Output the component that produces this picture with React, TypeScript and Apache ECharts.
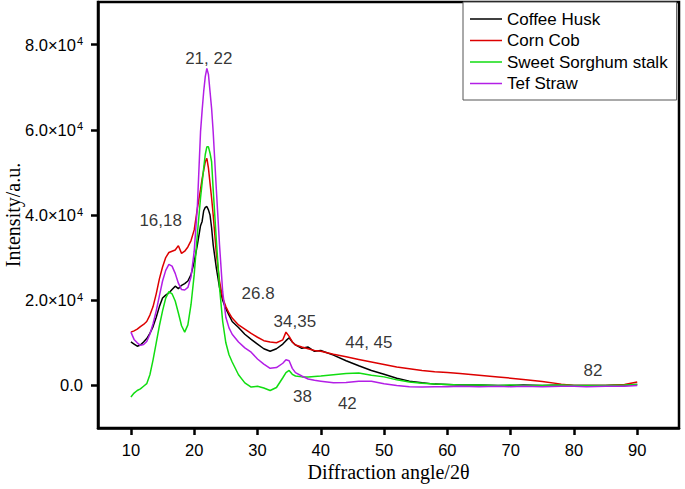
import React, { useEffect, useRef } from "react";
import * as echarts from "echarts";

const xAngles = [
  10, 10.5, 11, 11.5, 12, 12.5, 13, 13.5, 14, 14.5,
  15, 15.5, 16, 16.5, 17, 17.5, 18, 18.5, 19, 19.5,
  20, 20.5, 21, 21.25, 21.5, 21.75, 22, 22.25, 22.5, 22.75,
  23, 23.5, 24, 24.5, 25, 25.5, 26, 27, 28, 29,
  30, 31, 32, 33, 34, 34.5, 35, 35.5, 36, 37,
  38, 39, 40, 42, 44, 46, 48, 50, 52, 54,
  56, 58, 60, 62, 65, 68, 70, 72, 75, 78,
  80, 82, 85, 88, 90,
];

const coffeeHusk = [
  10200, 9700, 9200, 9500, 10200, 11000, 12200, 13800, 16000, 18500,
  20500, 21200, 21700, 22500, 23300, 22700, 23500, 23900, 24500, 26000,
  29000, 33000, 37500, 38500, 41000, 41800, 42000, 41200, 40000, 37000,
  33000, 27500, 23000, 20000, 18000, 16500, 15000, 13600, 12000, 10800,
  9700, 8600, 8000, 8600, 9700, 10500, 11200, 10200, 9500, 8700,
  9000, 8000, 8200, 7100, 5800, 4600, 3500, 2600, 1700, 1000,
  600, 300, 200, 100, 100, 0, 0, 100, 0, 100,
  0, 0, 0, 100, 200,
];

const cornCob = [
  12500, 12800, 13200, 13800, 14300, 15000, 16500, 18500, 21500, 25000,
  27800, 30000, 31200, 31500, 31800, 32800, 31000, 31500, 32500, 34000,
  36500, 41500, 46000, 48500, 50500, 52500, 53300, 51000, 47500, 44000,
  40000, 31000, 24500, 20500, 18500, 17000, 15800, 14200, 13200, 12200,
  11300, 10500, 10200, 10000, 10700, 12500, 11500, 10200, 9500, 9000,
  8600, 8200, 8000, 7300, 6700, 6100, 5500, 4900, 4300, 3900,
  3500, 3200, 3000, 2800, 2400, 2000, 1700, 1400, 900, 300,
  0, 0, 0, 200, 800,
];

const sweetSorghumStalk = [
  -2700, -1800, -1200, -800, -200, 400, 2500, 6000, 10000, 14000,
  17500, 20500, 22000, 21500, 19800, 17000, 14000, 12500, 14200, 19000,
  26000, 35500, 44000, 47500, 51000, 54200, 56000, 56000, 54500, 52500,
  46000, 34000, 23000, 15000, 10000, 7200, 5500, 2500, 600, -400,
  -200, -600, -1200, -500, 1800, 3000, 3500, 2600, 2200, 2000,
  2000, 2100, 2200, 2500, 2800, 2900, 2400, 2000, 1300, 800,
  500, 300, 200, 100, 100, 0, 100, 0, 0, 100,
  0, 0, 0, 100, 200,
];

const tefStraw = [
  12500, 10800, 10000, 9400, 9600, 10300, 12000, 14500, 17500, 21000,
  24500, 27000, 28400, 28000, 26300, 24000, 22500, 22400, 23000, 25500,
  31500, 42000, 59500, 64500, 69000, 72500, 74400, 73000, 69000, 65000,
  59500, 46000, 33000, 22000, 16000, 13500, 12000, 10200, 8800, 7800,
  6200, 5000, 4000, 4200, 5200, 6000, 5800, 4000, 3000, 2200,
  1500, 1200, 1000, 600, 700, 1000, 1000, 400, 0, -300,
  -400, -300, -300, -200, -300, -200, -300, -200, -300, -200,
  -200, -300, -200, -200, 0,
];

const seriesNames = ["Coffee Husk", "Corn Cob", "Sweet Sorghum stalk", "Tef Straw"];
const seriesColors = ["#000000", "#dd0000", "#11dd11", "#b31ee6"];

const xTickValues = [10, 20, 30, 40, 50, 60, 70, 80, 90];
const yTickValues = [0, 20000, 40000, 60000, 80000];

const peakLabels = ["21, 22", "16,18", "26.8", "34,35", "44, 45", "38", "42", "82"];
const peakLabelX = [22.3, 14.7, 30.1, 35.9, 47.6, 37.1, 44.2, 83.0];
const peakLabelY = [76700, 38600, 21600, 14900, 10100, -2700, -4200, 3500];

const SANS = "'Liberation Sans', Arial, Helvetica, sans-serif";
const SERIF = "'Liberation Serif', 'Times New Roman', serif";
const LEGEND_LINE = "path://M0,0H32V1.5H0Z";

export default function App() {
  const ref = useRef<HTMLDivElement>(null);

  useEffect(() => {
    if (!ref.current) return;
    const chart = echarts.init(ref.current, null, { renderer: "svg" });
    const allValues = [coffeeHusk, cornCob, sweetSorghumStalk, tefStraw];

    const lineSeries = allValues.map((vals, si) => ({
      type: "line",
      name: seriesNames[si],
      data: xAngles.map((x, i) => [x, vals[i]]),
      symbol: "none",
      smooth: false,
      lineStyle: { color: seriesColors[si], width: 1.5 },
      itemStyle: { color: seriesColors[si] },
      z: 2 + si,
    }));

    const labelSeries = {
      type: "scatter",
      name: "peaks",
      silent: true,
      symbolSize: 1,
      itemStyle: { color: "rgba(0,0,0,0)" },
      z: 20,
      data: peakLabels.map((t, i) => ({
        value: [peakLabelX[i], peakLabelY[i]],
        label: { formatter: t },
      })),
      label: {
        show: true,
        position: "inside",
        fontSize: 17,
        fontFamily: SANS,
        color: "#000",
      },
    };

    chart.setOption({
      animation: false,
      backgroundColor: "#ffffff",
      grid: {
        left: 98,
        right: 6,
        top: 2,
        bottom: 61,
        containLabel: false,
        outerBoundsMode: "none",
        show: true,
        borderColor: "#000",
        borderWidth: 2.5,
        backgroundColor: "transparent",
      },
      legend: {
        data: seriesNames.map((n) => ({ name: n, icon: LEGEND_LINE })),
        orient: "vertical",
        left: 463,
        top: 2,
        itemWidth: 32,
        itemHeight: 17,
        itemGap: 4.5,
        symbolKeepAspect: true,
        padding: [8.5, 9, 8, 7],
        borderColor: "#555",
        borderWidth: 1,
        backgroundColor: "#fff",
        textStyle: { fontSize: 17, fontFamily: SANS, color: "#000" },
      },
      xAxis: {
        type: "value",
        min: 4.8,
        max: 96.6,
        name: "Diffraction angle/2\u03b8",
        nameLocation: "middle",
        nameGap: 34,
        nameMoveOverlap: false,
        nameTextStyle: { fontFamily: SERIF, fontSize: 20, color: "#000" },
        axisLine: { show: true, onZero: false, lineStyle: { color: "#000", width: 2.5 } },
        axisTick: {
          show: true,
          inside: false,
          length: 7,
          lineStyle: { color: "#000", width: 2.5 },
          customValues: xTickValues,
        },
        axisLabel: {
          fontSize: 16.5,
          fontFamily: SANS,
          color: "#000",
          margin: 13,
          customValues: xTickValues,
        },
        splitLine: { show: false },
      },
      yAxis: {
        type: "value",
        min: -10000,
        max: 90000,
        name: "Intensity/a.u.",
        nameLocation: "middle",
        nameGap: 75,
        nameMoveOverlap: false,
        nameTextStyle: { fontFamily: SERIF, fontSize: 20, color: "#000" },
        axisLine: { show: true, onZero: false, lineStyle: { color: "#000", width: 2.5 } },
        axisTick: {
          show: true,
          inside: false,
          length: 7,
          lineStyle: { color: "#000", width: 2.5 },
          customValues: yTickValues,
        },
        axisLabel: {
          color: "#000",
          margin: 15,
          customValues: yTickValues,
          formatter: (v: number) =>
            v === 0 ? "{m|0.0}" : `{m|${(v / 10000).toFixed(1)}\u00d710}{s|4}`,
          rich: {
            m: { fontSize: 16.5, fontFamily: SANS, color: "#000", lineHeight: 20 },
            s: {
              fontSize: 11,
              fontFamily: SANS,
              color: "#000",
              lineHeight: 20,
              verticalAlign: "top",
              padding: [1, 0, 0, 1],
            },
          },
        },
        splitLine: { show: false },
      },
      series: [...lineSeries, labelSeries],
    });

    return () => chart.dispose();
  }, []);

  return (
    <div
      ref={ref}
      style={{ position: "fixed", left: 0, top: 0, width: 685, height: 489, background: "#fff" }}
    />
  );
}
